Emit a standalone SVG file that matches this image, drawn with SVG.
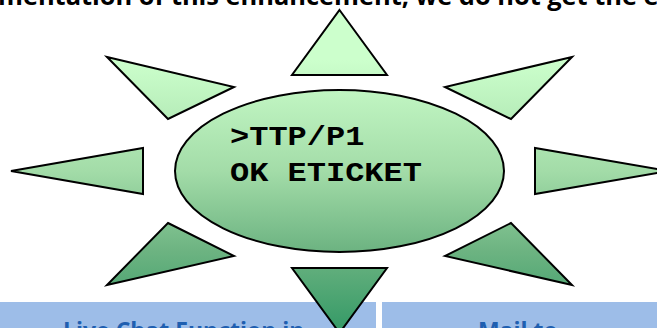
<svg xmlns="http://www.w3.org/2000/svg" width="657" height="328" viewBox="0 0 657 328">
<style>
.s{fill:url(#g);stroke:#000;stroke-width:2;stroke-linejoin:miter}
.h{font:bold 25.400px "Open Sans",sans-serif;fill:#000}
.b{font:bold 23px "Open Sans",sans-serif;fill:#1f5fb0}
.m{font:bold 28px "Liberation Mono",monospace;fill:#000}
.box{fill:#9dbde8}
</style>
<defs>
<linearGradient id="g" gradientUnits="userSpaceOnUse" x1="0" y1="10" x2="0" y2="333">
<stop offset="0" stop-color="#ccffcc"/><stop offset="0.155" stop-color="#ccffcc"/><stop offset="0.498" stop-color="#a3dca8"/><stop offset="0.749" stop-color="#6cb381"/><stop offset="1" stop-color="#339966"/>
</linearGradient>
</defs>
<rect width="657" height="328" fill="#fff"/>
<text class="h" x="-2" y="5">mentation of this enhancement, we do not get the e</text>
<g id="box-left"><rect class="box" x="0" y="302" width="376" height="26"/><text class="b" x="63" y="339">Live Chat Function in</text></g>
<g id="box-right"><rect class="box" x="382" y="302" width="275" height="26"/><text class="b" x="478" y="339">Mail to</text></g>
<g id="ray-top"><polygon class="s" points="339.500,10 387,75 292,75"/></g>
<g id="ray-upper-left"><polygon class="s" points="107,57 234,87 168,119"/></g>
<g id="ray-upper-right"><polygon class="s" points="572,57 445,87 511,119"/></g>
<g id="ray-left"><polygon class="s" points="11,171 143,148 143,194"/></g>
<g id="ray-right"><polygon class="s" points="668,171 535,148 535,194"/></g>
<g id="ray-lower-left"><polygon class="s" points="168,223 234,256 107,285"/></g>
<g id="ray-lower-right"><polygon class="s" points="511,223 445,256 572,285"/></g>
<g id="ray-bottom"><polygon class="s" points="292,268 387,268 339.500,333"/></g>
<g id="sun-centre"><ellipse class="s" cx="339.500" cy="171" rx="164.500" ry="81"/>
<text class="m" transform="translate(230 145) scale(1.143 1)">&gt;TTP/P1</text>
<text class="m" transform="translate(230 181) scale(1.143 1)">OK ETICKET</text></g>
<g id="connectors"/>
</svg>
